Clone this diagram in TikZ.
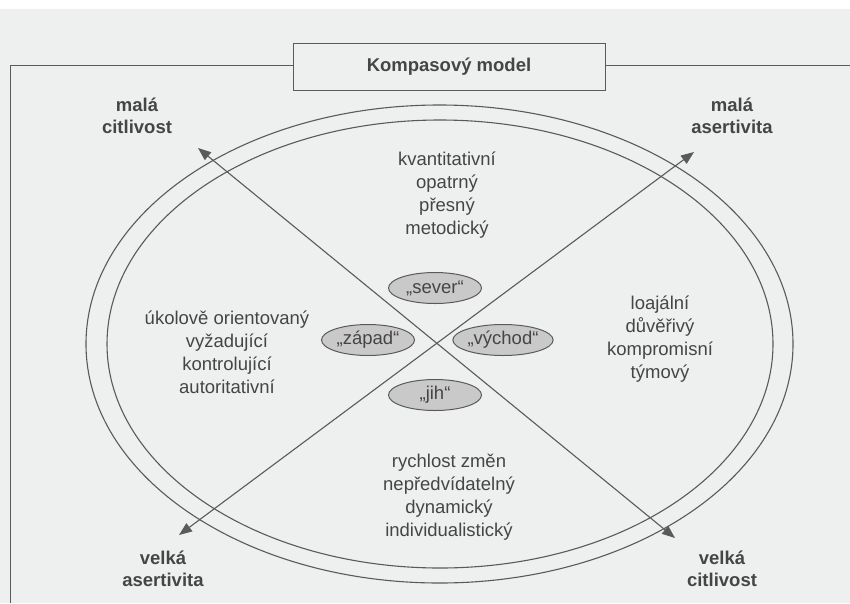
\documentclass[tikz,border=0pt]{standalone}
\usepackage{fontspec}
\setmainfont{Liberation Sans}
\usetikzlibrary{arrows.meta,shapes.geometric}
\definecolor{paper}{HTML}{EEEFEF}
\definecolor{ink}{HTML}{5A5A5A}
\definecolor{textink}{HTML}{454545}
\definecolor{blobfill}{HTML}{C9C9C9}
\tikzset{
  frameline/.style={draw=ink, line width=1pt},
  ring/.style={draw=ink, line width=1.1pt},
  axis/.style={draw=ink, line width=1.1pt,
    {Triangle[length=13pt,width=10pt]}-{Triangle[length=13pt,width=10pt]}},
  pole/.style={font=\fontsize{18.5}{22}\selectfont\bfseries, text=textink, align=center, inner sep=0pt},
  trait/.style={font=\fontsize{18.5}{23}\selectfont, text=textink, align=center, inner sep=0pt},
  quarter/.style={ellipse, draw=ink, line width=1pt, fill=blobfill, minimum width=93pt, minimum height=31pt,
    inner sep=0pt, font=\fontsize{18.5}{22}\selectfont, text=textink},
  titlebox/.style={draw=ink, line width=1pt, fill=paper, minimum width=312pt, minimum height=47pt,
    font=\fontsize{18.5}{22}\selectfont\bfseries, text=textink}
}
\begin{document}
\begin{tikzpicture}[x=1pt,y=-1pt]
  % page
  \fill[paper] (0,0) rectangle (850,603);
  \fill[white] (0,0) rectangle (850,9);
  \useasboundingbox (0,0) rectangle (850,603);

  % frame with title
  \node[titlebox] (title) at (449,66.5) {Kompasový model};
  \coordinate (frameTL) at (10,65);
  \coordinate (frameBL) at (10,603);
  \coordinate (frameTR) at (850,65);
  \draw[frameline] (frameBL) -- (frameTL) -- (title.west |- frameTL);
  \draw[frameline] (title.east |- frameTR) -- (frameTR);

  % two rings
  \draw[ring] (439.5,344) ellipse [x radius=353.5, y radius=239];
  \draw[ring] (440,344) ellipse [x radius=333, y radius=224];

  % axes
  \coordinate (nw) at (198,148);
  \coordinate (se) at (675,538);
  \coordinate (ne) at (694,152);
  \coordinate (sw) at (179,535);
  \draw[axis] (nw) -- (se);
  \draw[axis] (ne) -- (sw);

  % quarter names
  \node[quarter] (sever) at (435,288) {„sever“};
  \node[quarter] (zapad) at (368,340) {„západ“};
  \node[quarter] (vychod) at (503,340) {„východ“};
  \node[quarter] (jih) at (435,395) {„jih“};

  % corner poles
  \node[pole] (mc) at (137,116) {malá\\citlivost};
  \node[pole] (ma) at (732,116) {malá\\asertivita};
  \node[pole] (va) at (163,569) {velká\\asertivita};
  \node[pole] (vc) at (722,569) {velká\\citlivost};

  % traits
  \node[trait] (north) at (447,195) {kvantitativní\\opatrný\\přesný\\metodický};
  \node[trait] (west) at (227,352) {úkolově orientovaný\\vyžadující\\kontrolující\\autoritativní};
  \node[trait] (east) at (660,339) {loajální\\důvěřivý\\kompromisní\\týmový};
  \node[trait] (south) at (449,497) {rychlost změn\\nepředvídatelný\\dynamický\\individualistický};
\end{tikzpicture}
\end{document}
